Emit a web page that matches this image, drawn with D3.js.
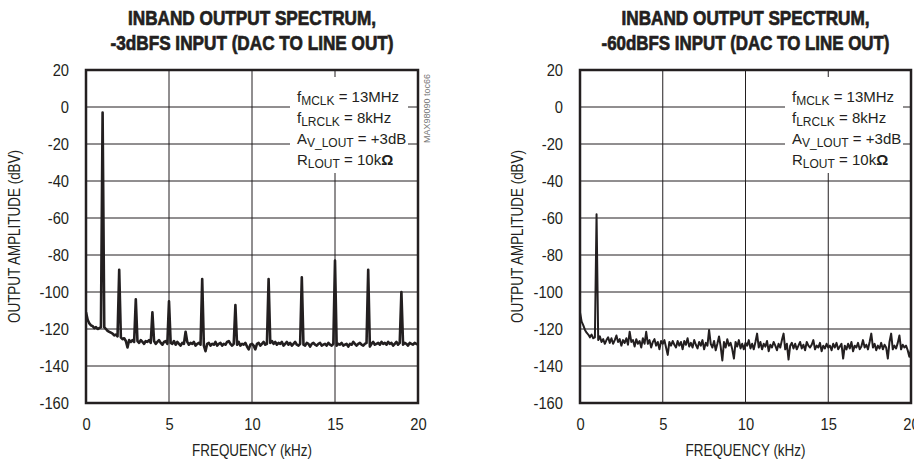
<!DOCTYPE html>
<html>
<head>
<meta charset="utf-8">
<script src="https://cdnjs.cloudflare.com/ajax/libs/d3/7.8.5/d3.min.js"></script>
<style>
  body { margin: 0; background: #fff; }
  text { font-family: 'Liberation Sans', Arial, Helvetica, sans-serif; fill: #231f20; }
</style>
</head>
<body>
<script>
// FFT bins are 0.1kHz apart, 0 to 20kHz
var binKHz = 0.1;

var xTicks = [0, 5, 10, 15, 20];
var yTicks = [20, 0, -20, -40, -60, -80, -100, -120, -140, -160];

// left plot: -3dBFS input, noise floor per bin (dBV)
var leftFloorDb = [
  -111, -115, -117, -118, -118.5, -119.5, -119, -120, -119.5, -119,
  -119, -119, -120, -121, -121.5, -122, -122.5, -123.5, -123, -124,
  -124, -124.5, -125.5, -125, -126.5, -130, -126, -127, -126, -127,
  -126.5, -126.5, -127.5, -126, -127, -128, -126.5, -127, -126, -127.5,
  -127, -126.5, -128, -127, -126, -127.5, -128.5, -127, -126.5, -128,
  -127, -127.5, -128, -126.5, -128.5, -127, -128, -129, -127.5, -128,
  -121.5, -127, -128.5, -127.5, -128, -127, -129, -128, -127.5, -128.5,
  -128, -129, -132, -128, -127.5, -129, -128, -128.5, -127, -129,
  -128, -127.5, -129, -128, -128.5, -127, -126.5, -128, -129, -128,
  -127.5, -128.5, -127, -129, -128, -128.5, -127.5, -129.5, -131, -128.5,
  -128, -129, -131, -128, -127.5, -129, -128, -127, -128.5, -128,
  -128, -127.5, -126.5, -128, -127, -128.5, -127.5, -128, -127, -129,
  -128, -127, -128.5, -127.5, -129, -128, -127, -128.5, -129, -128,
  -128, -128.5, -129, -127.5, -128, -129.5, -128, -127.5, -128.5, -129,
  -128, -127.5, -129, -128.5, -128, -129, -127.5, -128.5, -129, -128,
  -128, -129, -128, -128.5, -127.5, -129, -128.5, -128, -129.5, -128,
  -128.5, -127, -128, -129, -128, -127.5, -128.5, -129, -128, -127.5,
  -128, -129.5, -128, -127, -128.5, -128, -127.5, -128.5, -127, -128,
  -127.5, -128.5, -127, -128, -127.5, -129, -128, -127, -128.5, -127.5,
  -128, -128.5, -127.5, -128, -129, -127.5, -128, -128.5, -127.5, -128,
  -128.5
];
var leftToneKHz = [1, 2, 3, 4, 5, 7, 9, 11, 13, 15, 17, 19];
var leftToneDb  = [-3, -88, -104, -111, -105, -93, -107, -93, -92, -83, -88, -100];

// right plot: -60dBFS input
var rightFloorDb = [
  -111, -116, -118, -120.5, -122, -123, -124.5, -123, -125, -124.5,
  -125, -126, -124, -127, -125.5, -128, -126, -124.5, -127.5, -125,
  -128, -126, -123.5, -127, -125.5, -129, -126, -127.5, -125, -128.5,
  -121.5, -127, -126, -129.5, -125.5, -128, -126.5, -130, -125, -128,
  -121.5, -128, -126, -130, -127, -125.5, -129, -127, -131, -126.5,
  -128, -126, -130, -134, -127, -129, -126.5, -128.5, -130, -126.5,
  -129, -127, -131, -126.5, -128.5, -125, -129.5, -127.5, -130, -126,
  -128.5, -130.5, -127, -129, -126, -131, -127.5, -129, -120.5, -128,
  -130, -126.5, -131.5, -128, -124, -129.5, -137, -127, -130, -125.5,
  -129, -127.5, -131, -136, -127, -129.5, -126, -130.5, -128, -131,
  -127.5, -129, -126, -130.5, -128, -131, -127, -122.5, -130, -127,
  -131, -128, -129.5, -126.5, -132, -128.5, -130, -127, -129, -131.5,
  -128, -130, -126, -122.5, -131, -128, -136.5, -129, -127.5, -130.5,
  -128, -131, -129, -127, -130.5, -128.5, -131.5, -127, -129, -130,
  -128.5, -126, -131, -129, -130, -127.5, -132, -129, -130.5, -128,
  -130, -129, -131.5, -128, -130, -127.5, -131, -129.5, -128, -136,
  -129, -131, -128, -130.5, -127, -132, -129, -130, -127.5, -131,
  -129.5, -126, -130, -128.5, -131, -127, -122.5, -130, -128, -131.5,
  -129, -130.5, -127.5, -131, -128.5, -130, -136, -127, -122.5, -131,
  -129, -130.5, -127.5, -123.5, -131, -128.5, -130, -129, -131.5, -135,
  -131
];
var rightToneKHz = [1];
var rightToneDb  = [-58];

var titleLine1 = ["INBAND OUTPUT SPECTRUM,", "INBAND OUTPUT SPECTRUM,"];
var titleLine2 = ["-3dBFS INPUT (DAC TO LINE OUT)", "-60dBFS INPUT (DAC TO LINE OUT)"];

// conditions box: [main, subscript, rest]
var noteRows = [
  ["f", "MCLK", " = 13MHz"],
  ["f", "LRCLK", " = 8kHz"],
  ["A", "V_LOUT", " = +3dB"],
  ["R", "LOUT", " = 10k"]
];

var svg = d3.select("body").append("svg")
    .attr("width", 914)
    .attr("height", 462);

function buildSeries(floor, toneKHz, toneDb) {
    var pts = floor.map(function(v, i) { return { f: i * binKHz, db: v }; });
    toneKHz.forEach(function(f, j) {
        pts[Math.round(f / binKHz)].db = toneDb[j];
    });
    return pts;
}

// squeeze text horizontally (the original uses a condensed face)
function squeeze(sel, k) {
    sel.each(function() {
        var len = this.getComputedTextLength();
        d3.select(this).attr("textLength", len * k).attr("lengthAdjust", "spacingAndGlyphs");
    });
}

function fitTo(sel, w) {
    sel.attr("textLength", w).attr("lengthAdjust", "spacingAndGlyphs");
}

function drawPanel(p) {
    var g = svg.append("g");
    var x = d3.scaleLinear().domain([0, 20]).range([p.left, p.right]);
    var y = d3.scaleLinear().domain([-160, 20]).range([403, 70]);
    var cx = (p.left + p.right) / 2;

    // title
    var t1 = g.append("text")
        .attr("x", cx).attr("y", 25)
        .attr("text-anchor", "middle")
        .attr("font-size", "20px").attr("font-weight", "bold")
        .attr("stroke", "#231f20").attr("stroke-width", 0.7)
        .text(p.title1);
    fitTo(t1, p.titleW[0]);
    var t2 = g.append("text")
        .attr("x", cx).attr("y", 49.5)
        .attr("text-anchor", "middle")
        .attr("font-size", "20px").attr("font-weight", "bold")
        .attr("stroke", "#231f20").attr("stroke-width", 0.7)
        .text(p.title2);
    fitTo(t2, p.titleW[1]);

    // grid
    g.selectAll(".hgrid")
        .data(yTicks.slice(1, -1))
        .enter().append("line")
        .attr("x1", p.left).attr("x2", p.right)
        .attr("y1", function(d) { return y(d); })
        .attr("y2", function(d) { return y(d); })
        .attr("stroke", "#231f20").attr("stroke-width", 1);
    g.selectAll(".vgrid")
        .data(xTicks.slice(1, -1))
        .enter().append("line")
        .attr("y1", y(20)).attr("y2", y(-160))
        .attr("x1", function(d) { return x(d); })
        .attr("x2", function(d) { return x(d); })
        .attr("stroke", "#231f20").attr("stroke-width", 1);

    // white patch behind the conditions text
    var tx = p.right - p.noteOffset;
    g.append("rect").attr("x", tx - 7).attr("y", 77)
        .attr("width", 118).attr("height", 96).attr("fill", "#fff");

    // trace
    var clipId = "clip" + p.id;
    svg.append("clipPath").attr("id", clipId)
        .append("rect")
        .attr("x", p.left).attr("y", 70)
        .attr("width", p.right - p.left).attr("height", 333);

    var line = d3.line()
        .x(function(d) { return x(d.f); })
        .y(function(d) { return y(d.db); });

    g.append("path")
        .datum(p.series)
        .attr("clip-path", "url(#" + clipId + ")")
        .attr("d", line)
        .attr("fill", "none")
        .attr("stroke", "#231f20")
        .attr("stroke-width", p.traceWidth)
        .attr("stroke-linejoin", "round");

    // conditions text
    var note = g.append("g").attr("font-size", "15px");
    noteRows.forEach(function(r, i) {
        var t = note.append("text")
            .attr("x", tx).attr("y", 102 + i * 21);
        t.append("tspan").text(r[0]);
        t.append("tspan").attr("font-size", "12px").attr("dy", 3).text(r[1]);
        t.append("tspan").attr("dy", -3).text(r[2]);
        if (i == 3) {
            t.append("tspan").attr("font-weight", "bold").text("\u03A9");
        }
    });

    // frame
    g.append("rect")
        .attr("x", p.left).attr("y", 70)
        .attr("width", p.right - p.left).attr("height", 333)
        .attr("fill", "none")
        .attr("stroke", "#231f20").attr("stroke-width", 2.5);

    // axes
    var yAxis = d3.axisLeft(y).tickValues(yTicks).tickSize(0).tickPadding(17)
        .tickFormat(function(d) { return String(d); });
    var ya = g.append("g")
        .attr("transform", "translate(" + p.left + ",0)")
        .call(yAxis);
    ya.select(".domain").remove();
    ya.selectAll("text").attr("font-size", "16px");
    squeeze(ya.selectAll("text"), 0.92);

    var xAxis = d3.axisBottom(x).tickValues(xTicks).tickSize(0).tickPadding(15.5)
        .tickFormat(function(d) { return String(d); });
    var xa = g.append("g")
        .attr("transform", "translate(0,403)")
        .call(xAxis);
    xa.select(".domain").remove();
    xa.selectAll("text").attr("font-size", "16px");
    squeeze(xa.selectAll("text"), 0.92);

    // axis labels
    var xl = g.append("text")
        .attr("x", cx).attr("y", 456)
        .attr("text-anchor", "middle")
        .attr("font-size", "16px")
        .text("FREQUENCY (kHz)");
    fitTo(xl, 120);
    var yl = g.append("text")
        .attr("transform", "translate(" + p.yLabelX + "," + 236.5 + ") rotate(-90)")
        .attr("text-anchor", "middle")
        .attr("font-size", "16px")
        .text("OUTPUT AMPLITUDE (dBV)");
    squeeze(yl, 0.84);

    if (p.tag) {
        g.append("text")
            .attr("transform", "translate(" + (p.right + 12) + ",143) rotate(-90)")
            .attr("font-size", "9px")
            .style("fill", "#777")
            .text(p.tag);
    }
}

drawPanel({
    id: "L", left: 86, right: 418,
    title1: titleLine1[0], title2: titleLine2[0], titleW: [248, 283],
    series: buildSeries(leftFloorDb, leftToneKHz, leftToneDb),
    traceWidth: 2.6,
    noteOffset: 121,
    yLabelX: 20,
    tag: "MAX98090 toc66"
});

drawPanel({
    id: "R", left: 580, right: 911,
    title1: titleLine1[1], title2: titleLine2[1], titleW: [248, 288],
    series: buildSeries(rightFloorDb, rightToneKHz, rightToneDb),
    traceWidth: 2,
    noteOffset: 119,
    yLabelX: 523,
    tag: null
});
</script>
</body>
</html>
